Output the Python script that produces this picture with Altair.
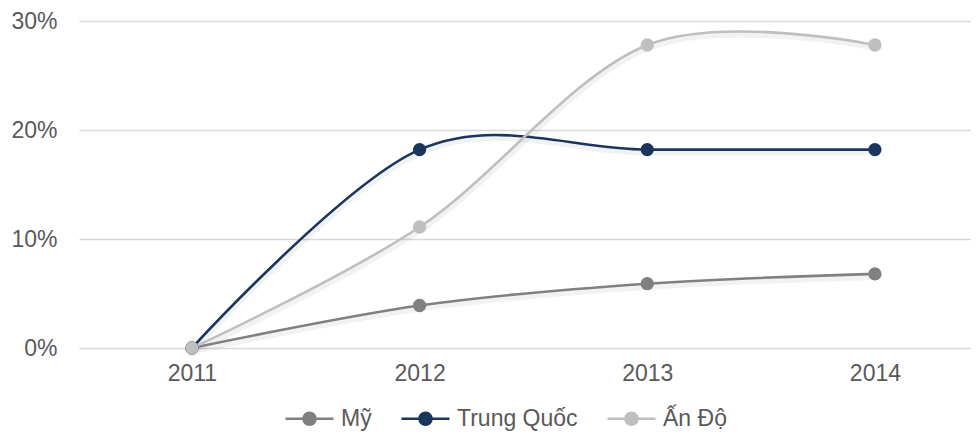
import altair as alt
import pandas as pd

years = [2011, 2012, 2013, 2014]
series_names = ["Mỹ", "Trung Quốc", "Ấn Độ"]
my_values = [0.0, 0.039, 0.059, 0.068]
tq_values = [0.0, 0.182, 0.182, 0.182]
ad_values = [0.0, 0.111, 0.278, 0.278]
colors = ["#808080", "#1b365d", "#bfbfbf"]
y_ticks = [0, 0.1, 0.2, 0.3]

rows = []
for name, vals in zip(series_names, [my_values, tq_values, ad_values]):
    for yr, v in zip(years, vals):
        rows.append({"series": name, "year": yr, "value": v})
df = pd.DataFrame(rows)

FONT = "Liberation Sans"
TXT = "#595959"

x = alt.X(
    "year:Q",
    scale=alt.Scale(domain=[2010.504, 2014.422], nice=False, zero=False),
    axis=alt.Axis(values=years, format="d", title=None, grid=False, ticks=False,
                  domain=False, labelFont=FONT, labelFontSize=23, labelColor=TXT,
                  labelPadding=14),
)
y = alt.Y(
    "value:Q",
    scale=alt.Scale(domain=[0, 0.3], nice=False),
    axis=alt.Axis(values=y_ticks, format=".0%", title=None, ticks=False, domain=False,
                  gridColor="#d9d9d9", gridWidth=1.5, labelFont=FONT, labelFontSize=23,
                  labelColor=TXT, labelPadding=22),
)

sym = "M-1,0L1,0M0.25,0A0.25,0.25,0,1,1,-0.25,0A0.25,0.25,0,1,1,0.25,0Z"
legend = alt.Legend(
    title=None, orient="none", direction="horizontal", legendX=205, legendY=372,
    symbolType=sym, symbolSize=2304, symbolStrokeWidth=2.5, symbolOpacity=1,
    labelFont=FONT, labelFontSize=23, labelColor=TXT, labelOffset=6, columnPadding=24,
)
color = alt.Color("series:N", scale=alt.Scale(domain=series_names, range=colors), legend=legend)

base = alt.Chart(df)
shadow = base.mark_line(interpolate="cardinal", strokeWidth=6, color="#000000",
                        opacity=0.05, yOffset=3, xOffset=1).encode(
    x=x, y=y, detail="series:N")
lines = base.mark_line(interpolate="cardinal", strokeWidth=2.6).encode(x=x, y=y, color=color)
points = base.mark_circle(size=177, opacity=1).encode(x=x, y=y, color=color)

chart = alt.layer(shadow, lines, points).properties(
    width=892, height=327,
    autosize=alt.AutoSizeParams(type="none"),
    padding={"left": 71, "top": 13, "right": 0, "bottom": 84},
).configure_view(stroke=None)

chart.save("out.html", embed_options={"renderer": "svg", "actions": False})
